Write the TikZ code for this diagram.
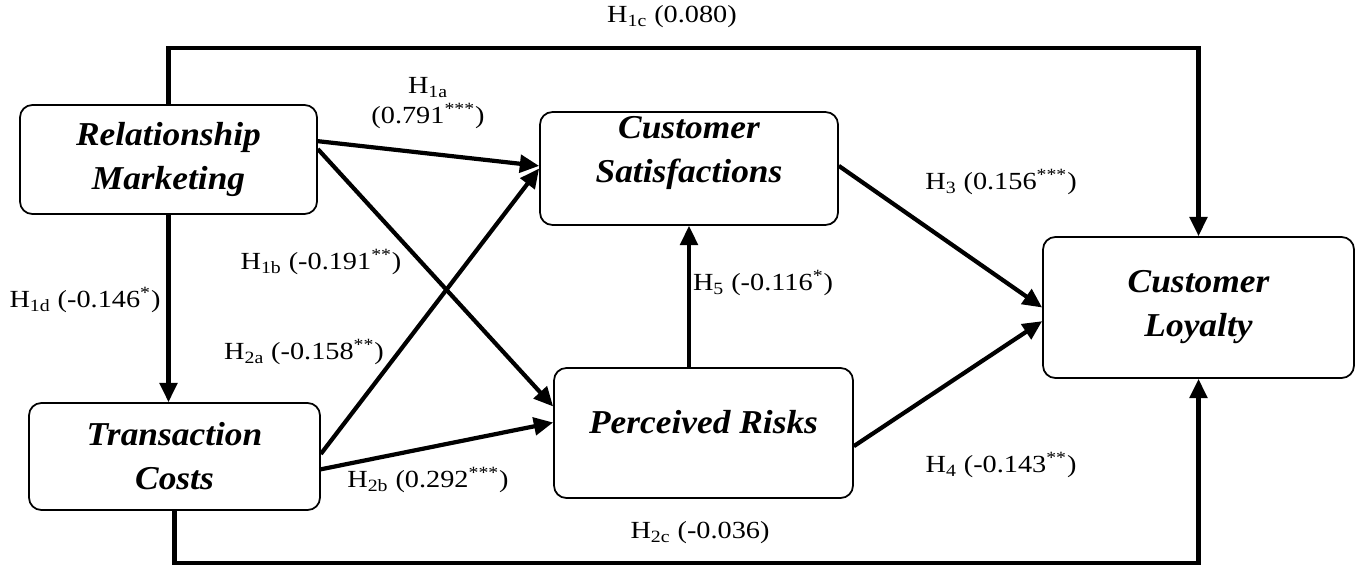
\documentclass[tikz,border=0pt]{standalone}
\usepackage{fontspec}
\setmainfont{Liberation Serif}[FakeStretch=1.15]
\newfontfamily\constructfont{Liberation Serif}[FakeStretch=1.06]
\usetikzlibrary{arrows.meta}
\tikzset{
    construct/.style={draw, line width=1pt, rounded corners=7pt, align=center,
        font=\constructfont\fontsize{19}{25}\selectfont\bfseries\itshape},
    effect/.style={line width=2.4pt, -{Triangle[length=11pt,width=10pt]}},
    coef/.style={font=\fontsize{14}{17}\selectfont, align=center, inner sep=0pt},
}

\begin{document}
\begin{tikzpicture}[x=0.02cm, y=-0.02cm]
    \useasboundingbox (0,0) rectangle (1357,565);
    % constructs
    \node[construct, minimum width=5.94cm, minimum height=2.18cm] (RM) at (168.5,159.5) {Relationship\\Marketing};
    \node[construct, minimum width=5.82cm, minimum height=2.14cm] (TC) at (174.5,456.5) {Transaction\\Costs};
    \node[construct, minimum width=5.96cm, text height=37pt, text depth=20.6pt] (CS) at (689,168.5) {Customer\\Satisfactions};
    \node[construct, minimum width=5.98cm, text height=33.7pt, text depth=33.6pt] (PR) at (703.5,433) {Perceived Risks};
    \node[construct, minimum width=6.22cm, minimum height=2.82cm] (CL) at (1198.5,307.5) {Customer\\Loyalty};
    \coordinate (topline) at (0,48);
    \coordinate (botline) at (0,563);
    % paths
    \draw[effect] (RM.7) -- (CS.179);
    \draw[effect] (RM.4) -- (PR.170);
    \draw[effect] (RM.south) -- (RM.south |- TC.north);
    \draw[effect] (TC.1) -- (CS.180);
    \draw[effect] (TC.355) -- (PR.176);
    \draw[effect] (CS.1) -- (CL.west);
    \draw[effect] (PR.355) -- (CL.185);
    \draw[effect] (PR.north -| CS.south) -- (CS.south);
    \draw[effect] (RM.north) -- (RM.north |- topline) -| (CL.north);
    \draw[effect] (TC.south) -- (TC.south |- botline) -| (CL.south);
    % coefficients
    \node[coef] (h1c) at (672,17) {H\textsubscript{1c} (0.080)};
    \node[coef] (h1a) at (428,103) {H\textsubscript{1a}\\(0.791\textsuperscript{***})};
    \node[coef] (h1b) at (321,262) {H\textsubscript{1b} (-0.191\textsuperscript{**})};
    \node[coef] (h1d) at (85,300) {H\textsubscript{1d} (-0.146\textsuperscript{*})};
    \node[coef] (h2a) at (304,352) {H\textsubscript{2a} (-0.158\textsuperscript{**})};
    \node[coef] (h2b) at (428,480) {H\textsubscript{2b} (0.292\textsuperscript{***})};
    \node[coef] (h2c) at (700,533) {H\textsubscript{2c} (-0.036)};
    \node[coef] (h3) at (1001,182) {H\textsubscript{3} (0.156\textsuperscript{***})};
    \node[coef] (h4) at (1001,465) {H\textsubscript{4} (-0.143\textsuperscript{**})};
    \node[coef] (h5) at (763,283) {H\textsubscript{5} (-0.116\textsuperscript{*})};
\end{tikzpicture}
\end{document}
